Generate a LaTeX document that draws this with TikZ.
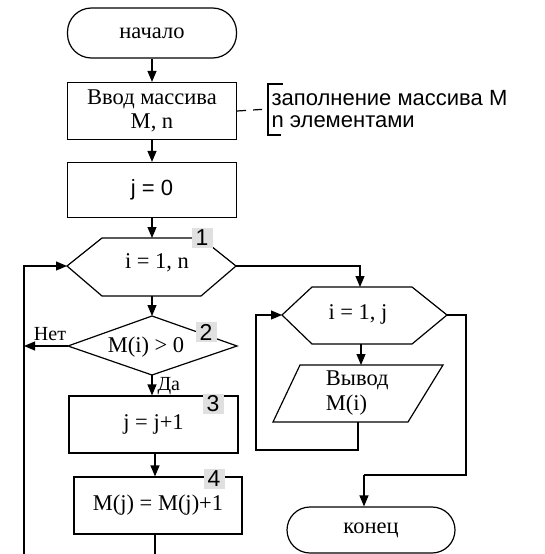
\documentclass[tikz,border=0pt]{standalone}
\usepackage{fontspec}
\setmainfont{Liberation Serif}
\setsansfont{Liberation Sans}
\usetikzlibrary{arrows.meta}
\begin{document}
\begin{tikzpicture}[x=1pt,y=-1pt, line width=1.2pt,
 arr/.style={-{Triangle[length=11pt,width=9pt]}},
 txt/.style={font=\fontsize{22.5}{24.5}\selectfont, align=center},
 smalltxt/.style={font=\fontsize{20}{22}\selectfont},
 stxt/.style={font=\sffamily\fontsize{22}{22}\selectfont},
 lbl/.style={fill=black!12, font=\sffamily\fontsize{23}{23}\selectfont, inner sep=0pt, minimum width=21pt, minimum height=20pt},
 blk/.style={draw, minimum width=169pt, minimum height=57pt, txt}]
\useasboundingbox[fill=white] (0,0) rectangle (544,554);
% top column
\node[draw, rounded corners=24pt, minimum width=169pt, minimum height=50pt, txt] (start) at (152,33) {начало};
\node[blk] (inp) at (152,111) {Ввод массива\\M, n};
\node[blk, minimum height=55pt, stxt] (j0) at (152,190) {j = 0};
% hexagon 1
\draw (67,266) -- (102,238) -- (201,238) -- (236,266) -- (201,296) -- (102,296) -- cycle;
\coordinate (h1L) at (67,266); \coordinate (h1R) at (236,266);
\coordinate (h1T) at (152,238); \coordinate (h1B) at (152,296);
\node[txt] (h1) at (157,263) {i = 1, n};
\node[lbl] (l1) at (202,238) {1};
% diamond
\draw (68,346) -- (152,316) -- (237,346) -- (152,375) -- cycle;
\coordinate (d2L) at (68,346); \coordinate (d2T) at (152,316); \coordinate (d2B) at (152,375);
\node[txt] (d2) at (146,347) {M(i) > 0};
\node[lbl] (l2) at (206,332) {2};
% boxes 3 and 4
\node[blk] (b3) at (153.5,424.5) {j = j+1};
\node[lbl] (l3) at (213,404) {3};
\node[blk, minimum width=168pt] (b4) at (158,505.5) {M(j) = M(j)+1};
\node[lbl] (l4) at (214,479) {4};
% hexagon 2
\draw (282,315) -- (312,287) -- (412,287) -- (447,315) -- (412,344) -- (312,344) -- cycle;
\coordinate (h2L) at (282,315); \coordinate (h2R) at (447,315);
\coordinate (h2T) at (360,287); \coordinate (h2B) at (361,344);
\node[txt] (h2) at (358,314) {i = 1, j};
% parallelogram
\draw (300,365) -- (443,365) -- (408,422) -- (273,422) -- cycle;
\coordinate (pT) at (361,365); \coordinate (pB) at (358,422);
\node[txt, align=left, anchor=west] (par) at (322,393) {Вывод\\M(i)};
% end
\node[draw, rounded corners=23pt, minimum width=168pt, minimum height=46pt, txt] (end) at (371,530) {конец};
% annotation
\coordinate (ann) at (268,109);
\draw[dash pattern=on 9pt off 7pt] (inp.east) -- (ann);
\draw (283,84) -- (268,84) -- (268,135) -- (281,135);
\node[stxt, align=left, anchor=west, inner sep=0pt] (anntxt) at (271,109) {заполнение массива M\\n элементами};
% connectors
\draw[arr] (start) -- (inp);
\draw[arr] (inp) -- (j0);
\draw[arr] (j0.south) -- (h1T);
\draw[arr] (h1B) -- (d2T);
\draw[arr] (d2B) -- (d2B |- b3.north);
\draw[arr] (b3.south -| 155,0) -- (b4.north -| 155,0);
\coordinate (lb) at (24,554); \coordinate (mb) at (155,554);
\draw (b4.south -| mb) -- (mb);
\draw[arr] (lb) |- (h1L);
\draw[arr] (d2L) -- (d2L -| lb);
\node[smalltxt, anchor=south, inner sep=1pt] (no) at (50,342) {Нет};
\node[smalltxt, anchor=west, inner sep=1pt] (yes) at (156,386) {Да};
\draw[arr] (h1R) -| (h2T);
\draw[arr] (h2B) -- (pT);
\coordinate (c1) at (256,450);
\draw[arr] (pB) |- (c1) |- (h2L);
\coordinate (c2) at (466,475); \coordinate (c3) at (364,475);
\draw (h2R) -| (c2) -- (c3);
\draw[arr] (c3) -- (c3 |- end.north);
\end{tikzpicture}
\end{document}
